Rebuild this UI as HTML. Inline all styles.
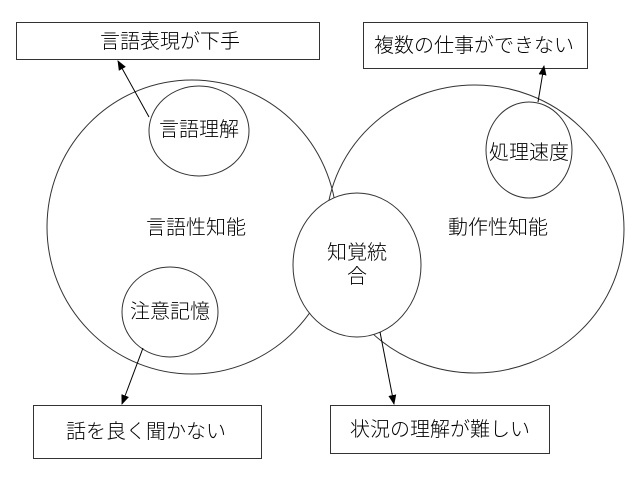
<!DOCTYPE html>
<html><head><meta charset="utf-8"><style>
html,body{margin:0;padding:0;background:#fff;}
svg{display:block;}
text{font-family:"Liberation Sans","Noto Sans CJK JP",sans-serif;font-size:20px;font-weight:300;fill:#000;text-anchor:middle;dominant-baseline:central;}
</style></head><body>
<svg width="640" height="480" viewBox="0 0 640 480" xmlns="http://www.w3.org/2000/svg">
<defs><marker id="a" markerWidth="10" markerHeight="10" refX="9" refY="5" orient="auto" markerUnits="userSpaceOnUse"><path d="M0,1 L10,5 L0,9 z" fill="#000"/></marker></defs>
<g fill="none" stroke="#333" stroke-width="1">
<ellipse cx="192" cy="227" rx="145" ry="147"/>
<ellipse cx="475" cy="229" rx="149" ry="144"/>
</g>
<g fill="#fff" stroke="#333" stroke-width="1">
<ellipse cx="199" cy="131" rx="50" ry="45"/>
<ellipse cx="529" cy="150" rx="43" ry="48"/>
<ellipse cx="357" cy="265" rx="64" ry="72"/>
<ellipse cx="170" cy="312" rx="48" ry="45"/>
<rect x="16.5" y="22.5" width="303" height="37"/>
<rect x="363.5" y="22.5" width="224" height="46"/>
<rect x="33.5" y="405.5" width="228" height="53"/>
<rect x="330.5" y="405.5" width="219" height="48"/>
</g>
<g stroke="#000" stroke-width="1" marker-end="url(#a)">
<line x1="149" y1="117" x2="118" y2="61"/>
<line x1="538" y1="102" x2="544" y2="66"/>
<line x1="143" y1="348" x2="122" y2="404"/>
<line x1="380" y1="332" x2="394" y2="404"/>
</g>
<text x="170" y="42">言語表現が下手</text>
<text x="474" y="46">複数の仕事ができない</text>
<text x="199" y="130">言語理解</text>
<text x="529" y="153">処理速度</text>
<text x="196" y="228">言語性知能</text>
<text x="498" y="228">動作性知能</text>
<text x="357" y="253">知覚統</text>
<text x="357" y="277">合</text>
<text x="170" y="312">注意記憶</text>
<text x="146" y="432">話を良く聞かない</text>
<text x="440" y="430">状況の理解が難しい</text>
</svg>
</body></html>
